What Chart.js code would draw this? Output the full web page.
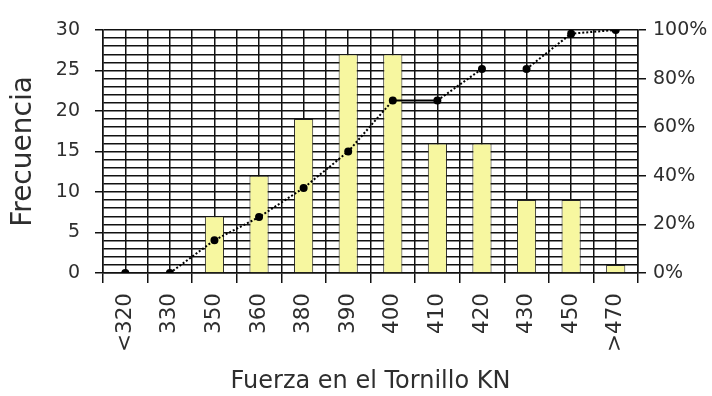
<!DOCTYPE html>
<html>
<head>
<meta charset="utf-8">
<script src="https://cdn.jsdelivr.net/npm/chart.js@4.4.1/dist/chart.umd.min.js"></script>
<style>
  html, body { margin: 0; padding: 0; background: #fff; }
  #wrap { width: 712px; height: 396px; }
</style>
</head>
<body>
<div id="wrap"><canvas id="paretoChart"></canvas></div>
<script>
// Data
const categories = ['<320', '330', '350', '360', '380', '390', '400', '410', '420', '430', '450', '>470'];
const frequency = [0, 0, 7, 12, 19, 27, 27, 16, 16, 9, 9, 1];
const cumulativePct = [0, 0, 13.5, 23, 35, 50, 71, 71, 84, 84, 98.5, 100];
const freqTicks = [0, 5, 10, 15, 20, 25, 30];
const pctTicks = [0, 20, 40, 60, 80, 100];
// line segments that are not drawn (index of the segment start point)
const lineGaps = [0, 8];

const FONT = "'DejaVu Sans', sans-serif";
const INK = '#2e2e2e';
const GRID = '#111';

const chartEl = document.getElementById('paretoChart');

const createParetoChart = () => {
  new Chart(chartEl, {
    data: {
      labels: categories,
      datasets: [
        {
          type: 'line',
          label: '% acumulado',
          data: cumulativePct,
          yAxisID: 'y1',
          xAxisID: 'x',
          order: 0,
          borderColor: '#000',
          borderWidth: 2,
          borderDash: [2, 2],
          pointRadius: 3,
          pointBackgroundColor: '#000',
          pointBorderColor: '#000',
          fill: false,
          tension: 0,
          segment: {
            borderColor: (ctx) => (lineGaps.includes(ctx.p0DataIndex) ? 'rgba(0,0,0,0)' : '#000'),
            // flat stretches look solid in the original
            borderDash: (ctx) => (ctx.p0.parsed.y === ctx.p1.parsed.y ? [] : [2, 2]),
          },
        },
        {
          type: 'bar',
          label: 'Frecuencia',
          data: frequency,
          yAxisID: 'y',
          xAxisID: 'x',
          order: 1,
          backgroundColor: '#f7f7a0',
          borderColor: '#222',
          borderWidth: 1,
          barPercentage: 0.43,
          categoryPercentage: 1,
        },
      ],
    },
    options: {
      responsive: true,
      maintainAspectRatio: false,
      animation: false,
      layout: {
        padding: { top: 0, right: 5, bottom: 0, left: 0 },
      },
      plugins: {
        legend: { display: false },
        tooltip: { enabled: false },
      },
      scales: {
        x: {
          type: 'category',
          position: 'bottom',
          offset: true,
          afterFit: (scale) => { scale.height = 123; },
          grid: {
            offset: true,
            color: GRID,
            lineWidth: 1.5,
            tickLength: 10,
            tickColor: GRID,
          },
          border: { color: GRID, width: 1.5 },
          ticks: {
            color: INK,
            font: { family: FONT, size: 21.5 },
            minRotation: 90,
            maxRotation: 90,
            padding: 10,
            autoSkip: false,
          },
          title: {
            display: true,
            text: 'Fuerza en el Tornillo KN',
            color: INK,
            font: { family: FONT, size: 24 },
            padding: { top: 14, bottom: 0 },
          },
        },
        // second category axis only for the grid lines through the category centres;
        // it also holds the empty band above the plot
        xMid: {
          type: 'category',
          labels: categories,
          position: 'top',
          offset: true,
          afterFit: (scale) => { scale.height = 30; },
          grid: {
            offset: false,
            color: GRID,
            lineWidth: 1.5,
            drawTicks: false,
          },
          border: { display: false },
          ticks: { display: false },
        },
        y: {
          type: 'linear',
          position: 'left',
          min: freqTicks[0],
          max: freqTicks[freqTicks.length - 1],
          afterFit: (scale) => { scale.width = 103; },
          grid: {
            color: GRID,
            lineWidth: 1.5,
            tickLength: 8,
            tickColor: (ctx) => (ctx.tick && freqTicks.includes(ctx.tick.value) ? GRID : 'rgba(0,0,0,0)'),
          },
          border: { color: GRID, width: 1.5 },
          ticks: {
            stepSize: 1,
            autoSkip: false,
            color: INK,
            font: { family: FONT, size: 19 },
            padding: 15,
            callback: (v) => (freqTicks.includes(v) ? String(v) : ''),
          },
          title: {
            display: true,
            text: 'Frecuencia',
            color: INK,
            font: { family: FONT, size: 28 },
            padding: { top: 7, bottom: 10 },
          },
        },
        y1: {
          type: 'linear',
          position: 'right',
          min: pctTicks[0],
          max: pctTicks[pctTicks.length - 1],
          afterFit: (scale) => { scale.width = 69; },
          grid: {
            drawOnChartArea: false,
            tickLength: 8,
            tickColor: GRID,
            lineWidth: 1.5,
          },
          border: { color: GRID, width: 1.5 },
          ticks: {
            stepSize: 20,
            color: INK,
            font: { family: FONT, size: 19 },
            padding: 7,
            callback: (v) => v + '%',
          },
        },
      },
    },
  });
};

createParetoChart();
</script>
</body>
</html>
